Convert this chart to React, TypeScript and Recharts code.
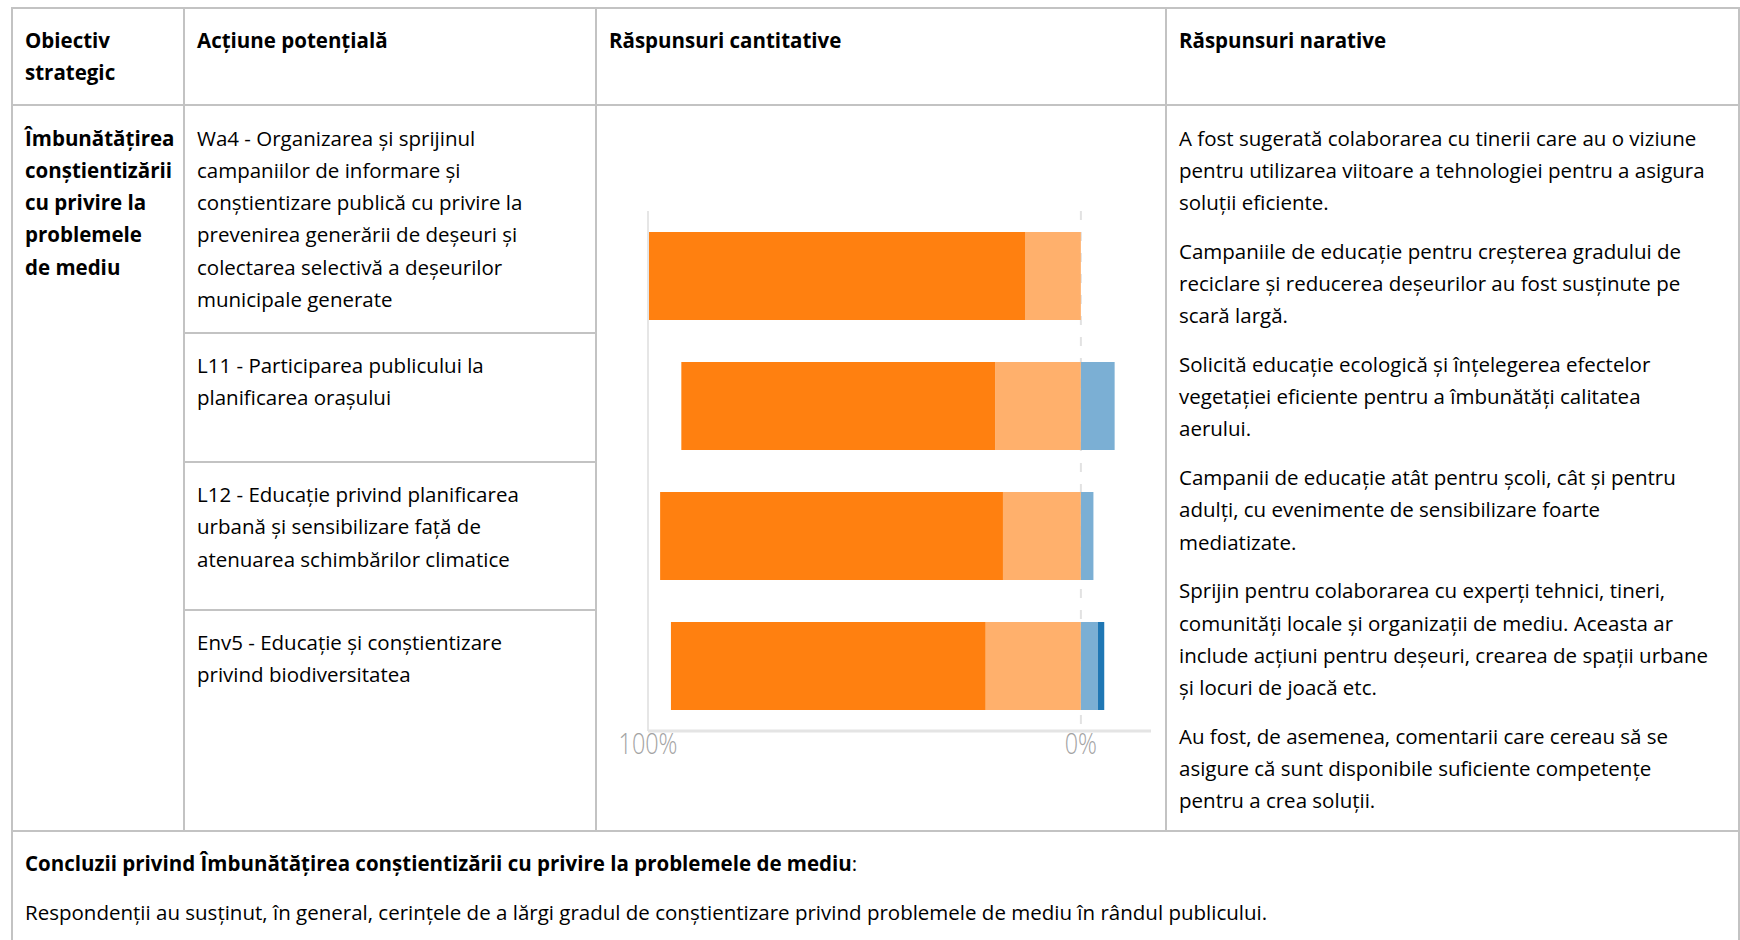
import React from 'react';
import { BarChart, Bar, XAxis, YAxis, ReferenceLine, CartesianGrid } from 'recharts';

// ---- chart data (percent of respondents) ----
const actions = ['Wa4', 'L11', 'L12', 'Env5'];
const stronglyAgree = [87.1, 72.5, 79.2, 72.7];
const agree = [12.9, 19.8, 18.0, 22.0];
const disagree = [0, 7.8, 2.9, 3.9];
const stronglyDisagree = [0, 0, 0, 1.5];
const axisTicks = [-100, 0];
const axisDomain = [-100, 16.2];

// ---- table text ----
const headers = [['Obiectiv', 'strategic'], ['Acțiune potențială'], ['Răspunsuri cantitative'], ['Răspunsuri narative']];
const objectiveLines = ['Îmbunătățirea', 'conștientizării', 'cu privire la', 'problemele', 'de mediu'];
const actionTexts = [
  ['Wa4 - Organizarea și sprijinul', 'campaniilor de informare și', 'conștientizare publică cu privire la', 'prevenirea generării de deșeuri și', 'colectarea selectivă a deșeurilor', 'municipale generate'],
  ['L11 - Participarea publicului la', 'planificarea orașului'],
  ['L12 - Educație privind planificarea', 'urbană și sensibilizare față de', 'atenuarea schimbărilor climatice'],
  ['Env5 - Educație și conștientizare', 'privind biodiversitatea'],
];
const narratives = [
  ['A fost sugerată colaborarea cu tinerii care au o viziune', 'pentru utilizarea viitoare a tehnologiei pentru a asigura', 'soluții eficiente.'],
  ['Campaniile de educație pentru creșterea gradului de', 'reciclare și reducerea deșeurilor au fost susținute pe', 'scară largă.'],
  ['Solicită educație ecologică și înțelegerea efectelor', 'vegetației eficiente pentru a îmbunătăți calitatea', 'aerului.'],
  ['Campanii de educație atât pentru școli, cât și pentru', 'adulți, cu evenimente de sensibilizare foarte', 'mediatizate.'],
  ['Sprijin pentru colaborarea cu experți tehnici, tineri,', 'comunități locale și organizații de mediu. Aceasta ar', 'include acțiuni pentru deșeuri, crearea de spații urbane', 'și locuri de joacă etc.'],
  ['Au fost, de asemenea, comentarii care cereau să se', 'asigure că sunt disponibile suficiente competențe', 'pentru a crea soluții.'],
];
const conclusionTitle = 'Concluzii privind Îmbunătățirea conștientizării cu privire la problemele de mediu';
const conclusionText = 'Respondenții au susținut, în general, cerințele de a lărgi gradul de conștientizare privind problemele de mediu în rândul publicului.';

const chartData = actions.map((a, i) => ({
  action: a,
  agree: -agree[i],
  stronglyAgree: -stronglyAgree[i],
  disagree: disagree[i],
  stronglyDisagree: stronglyDisagree[i],
}));

const LH = 32.3;
const BORDER = '#c3c3c3';

const HLine = ({ x1, x2, y }: { x1: number; x2: number; y: number }) => (
  <div style={{ position: 'absolute', left: x1 - 1, top: y - 1, width: x2 - x1 + 2, height: 2, background: BORDER }} />
);
const VLine = ({ x, y1, y2 }: { x: number; y1: number; y2: number }) => (
  <div style={{ position: 'absolute', left: x - 1, top: y1 - 1, width: 2, height: y2 - y1 + 2, background: BORDER }} />
);

const Lines = ({ lines, bold }: { lines: string[]; bold?: boolean }) => (
  <div style={{ fontWeight: bold ? 700 : 400 }}>
    {lines.map((l, i) => (
      <div key={i} style={{ height: LH, lineHeight: LH + 'px', whiteSpace: 'nowrap' }}>{l}</div>
    ))}
  </div>
);

const Cell = ({ left, top, width, children }: { left: number; top: number; width: number; children: React.ReactNode }) => (
  <div style={{ position: 'absolute', left, top, width, padding: '16px 13px', boxSizing: 'border-box' }}>{children}</div>
);

const PercentTick = (props: any) => {
  const { x, y, payload } = props;
  return (
    <g transform={`translate(${x},${y})`}>
      <text
        transform="scale(0.78,1)"
        x={0}
        y={0}
        dy={21}
        textAnchor="middle"
        fill="#a3a3a3"
        fontSize={30}
        fontFamily="'Open Sans', sans-serif"
        fontWeight={300}
      >
        {Math.abs(payload.value) + '%'}
      </text>
    </g>
  );
};

const gridAtTicks = (props: any) => {
  const scale = props && props.xAxis && props.xAxis.scale;
  if (!scale) return [];
  const fn = typeof scale === 'function' ? scale : scale.map ? (v: number) => scale.map(v) : null;
  if (!fn) return [];
  return axisTicks.map((t) => fn(t));
};

const Chart = () => (
  <BarChart
    width={570}
    height={726}
    data={chartData}
    layout="vertical"
    stackOffset="sign"
    barCategoryGap={21}
    margin={{ top: 106, right: 15, bottom: 70, left: 52 }}
  >
    <CartesianGrid
      horizontal={false}
      stroke="#e2e2e2"
      strokeWidth={2}
      strokeDasharray="9 12"
      verticalCoordinatesGenerator={gridAtTicks}
    />
    <XAxis
      type="number"
      domain={axisDomain}
      ticks={axisTicks}
      allowDataOverflow
      axisLine={{ stroke: '#e4e4e4', strokeWidth: 3 }}
      tickLine={false}
      tickSize={0}
      tickMargin={2}
      height={30}
      tick={<PercentTick />}
    />
    <YAxis type="category" dataKey="action" hide />
    <ReferenceLine x={-100} stroke="#e6e6e6" strokeWidth={2} />
    <Bar dataKey="agree" stackId="s" fill="#ffb06c" isAnimationActive={false} />
    <Bar dataKey="stronglyAgree" stackId="s" fill="#ff8010" isAnimationActive={false} />
    <Bar dataKey="disagree" stackId="s" fill="#7bafd4" isAnimationActive={false} />
    <Bar dataKey="stronglyDisagree" stackId="s" fill="#1f77b4" isAnimationActive={false} />
  </BarChart>
);

export default function App() {
  const colX = [12, 184, 596, 1166, 1739];
  const rowDiv = [333, 462, 610];
  const paraGap = 16.3;
  return (
    <div
      style={{
        position: 'absolute',
        left: 0,
        top: 0,
        width: 1740,
        height: 940,
        overflow: 'hidden',
        background: '#fff',
        fontFamily: "'Open Sans', sans-serif",
        fontSize: 20.5,
        color: '#000',
      }}
    >
      {/* borders */}
      <HLine x1={12} x2={1739} y={8} />
      <HLine x1={12} x2={1739} y={105} />
      <HLine x1={12} x2={1739} y={831} />
      <VLine x={12} y1={8} y2={960} />
      <VLine x={1739} y1={8} y2={960} />
      <VLine x={184} y1={8} y2={831} />
      <VLine x={596} y1={8} y2={831} />
      <VLine x={1166} y1={8} y2={831} />
      {rowDiv.map((y) => (
        <HLine key={y} x1={184} x2={596} y={y} />
      ))}

      {/* header */}
      {headers.map((h, i) => (
        <Cell key={i} left={colX[i]} top={8} width={colX[i + 1] - colX[i]}>
          <Lines lines={h} bold />
        </Cell>
      ))}

      {/* body */}
      <Cell left={12} top={105.5} width={172}>
        <Lines lines={objectiveLines} bold />
      </Cell>
      {actionTexts.map((t, i) => (
        <Cell key={i} left={184} top={i === 0 ? 105.5 : rowDiv[i - 1]} width={412}>
          <Lines lines={t} />
        </Cell>
      ))}
      <div style={{ position: 'absolute', left: 596, top: 105 }}>
        <Chart />
      </div>
      <Cell left={1166} top={105.5} width={573}>
        {narratives.map((p, i) => (
          <div key={i} style={{ marginBottom: paraGap }}>
            <Lines lines={p} />
          </div>
        ))}
      </Cell>

      {/* conclusion */}
      <Cell left={12} top={831} width={1727}>
        <div style={{ height: LH, lineHeight: LH + 'px', whiteSpace: 'nowrap' }}>
          <b>{conclusionTitle}</b>:
        </div>
        <div style={{ height: LH, lineHeight: LH + 'px', whiteSpace: 'nowrap', marginTop: 16.5 }}>{conclusionText}</div>
      </Cell>
    </div>
  );
}
